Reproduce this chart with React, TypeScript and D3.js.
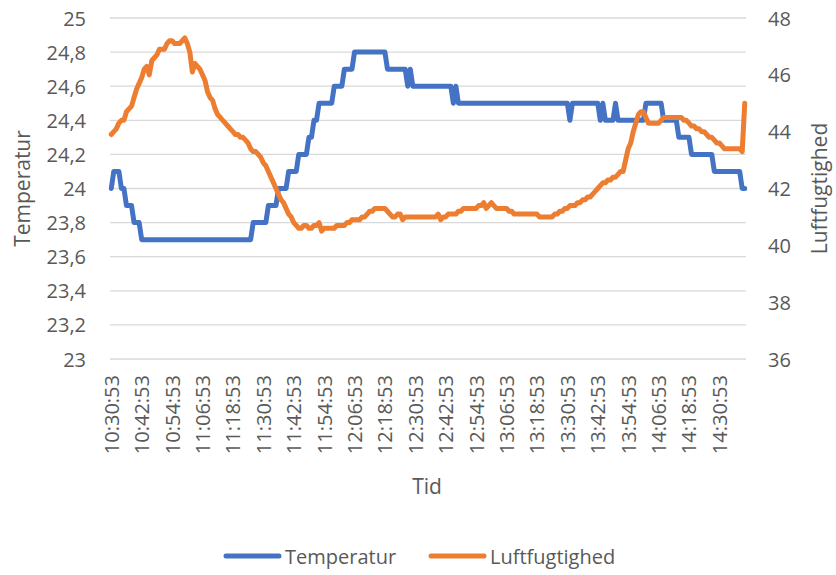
import * as d3 from 'd3'

// minute-by-minute readings, 10:30:53 -> 14:40:53
const temperatur: number[] = [
  24.0, 24.1, 24.1, 24.1, 24.0, 24.0, 23.9, 23.9, 23.9, 23.8,
  23.8, 23.8, 23.7, 23.7, 23.7, 23.7, 23.7, 23.7, 23.7, 23.7,
  23.7, 23.7, 23.7, 23.7, 23.7, 23.7, 23.7, 23.7, 23.7, 23.7,
  23.7, 23.7, 23.7, 23.7, 23.7, 23.7, 23.7, 23.7, 23.7, 23.7,
  23.7, 23.7, 23.7, 23.7, 23.7, 23.7, 23.7, 23.7, 23.7, 23.7,
  23.7, 23.7, 23.7, 23.7, 23.7, 23.7, 23.8, 23.8, 23.8, 23.8,
  23.8, 23.8, 23.9, 23.9, 23.9, 23.9, 24.0, 24.0, 24.0, 24.0,
  24.1, 24.1, 24.1, 24.1, 24.2, 24.2, 24.2, 24.2, 24.3, 24.3,
  24.4, 24.4, 24.5, 24.5, 24.5, 24.5, 24.5, 24.5, 24.6, 24.6,
  24.6, 24.6, 24.7, 24.7, 24.7, 24.7, 24.8, 24.8, 24.8, 24.8,
  24.8, 24.8, 24.8, 24.8, 24.8, 24.8, 24.8, 24.8, 24.8, 24.7,
  24.7, 24.7, 24.7, 24.7, 24.7, 24.7, 24.7, 24.6, 24.7, 24.6,
  24.6, 24.6, 24.6, 24.6, 24.6, 24.6, 24.6, 24.6, 24.6, 24.6,
  24.6, 24.6, 24.6, 24.6, 24.6, 24.5, 24.6, 24.5, 24.5, 24.5,
  24.5, 24.5, 24.5, 24.5, 24.5, 24.5, 24.5, 24.5, 24.5, 24.5,
  24.5, 24.5, 24.5, 24.5, 24.5, 24.5, 24.5, 24.5, 24.5, 24.5,
  24.5, 24.5, 24.5, 24.5, 24.5, 24.5, 24.5, 24.5, 24.5, 24.5,
  24.5, 24.5, 24.5, 24.5, 24.5, 24.5, 24.5, 24.5, 24.5, 24.5,
  24.5, 24.4, 24.5, 24.5, 24.5, 24.5, 24.5, 24.5, 24.5, 24.5,
  24.5, 24.5, 24.5, 24.4, 24.5, 24.4, 24.4, 24.4, 24.4, 24.5,
  24.4, 24.4, 24.4, 24.4, 24.4, 24.4, 24.4, 24.4, 24.4, 24.4,
  24.4, 24.5, 24.5, 24.5, 24.5, 24.5, 24.5, 24.5, 24.4, 24.4,
  24.4, 24.4, 24.4, 24.4, 24.3, 24.3, 24.3, 24.3, 24.3, 24.2,
  24.2, 24.2, 24.2, 24.2, 24.2, 24.2, 24.2, 24.2, 24.1, 24.1,
  24.1, 24.1, 24.1, 24.1, 24.1, 24.1, 24.1, 24.1, 24.1, 24.0,
  24.0,
]

const luftfugtighed: number[] = [
  43.9, 44.0, 44.1, 44.3, 44.4, 44.4, 44.7, 44.8, 44.9, 45.2,
  45.5, 45.7, 45.9, 46.2, 46.3, 46.0, 46.5, 46.6, 46.7, 46.9,
  46.9, 46.9, 47.1, 47.2, 47.2, 47.1, 47.1, 47.1, 47.2, 47.3,
  47.1, 46.8, 46.1, 46.4, 46.3, 46.2, 46.0, 45.8, 45.4, 45.2,
  45.1, 44.8, 44.6, 44.5, 44.4, 44.3, 44.2, 44.1, 44.0, 43.9,
  43.9, 43.8, 43.8, 43.7, 43.6, 43.4, 43.3, 43.3, 43.2, 43.1,
  42.9, 42.8, 42.6, 42.4, 42.2, 42.0, 41.8, 41.6, 41.5, 41.3,
  41.1, 41.0, 40.8, 40.7, 40.6, 40.6, 40.7, 40.7, 40.6, 40.6,
  40.7, 40.7, 40.8, 40.5, 40.6, 40.6, 40.6, 40.6, 40.6, 40.7,
  40.7, 40.7, 40.7, 40.8, 40.8, 40.9, 40.9, 40.9, 40.9, 41.0,
  41.0, 41.1, 41.2, 41.2, 41.3, 41.3, 41.3, 41.3, 41.3, 41.2,
  41.1, 41.0, 41.0, 41.1, 41.1, 40.9, 41.0, 41.0, 41.0, 41.0,
  41.0, 41.0, 41.0, 41.0, 41.0, 41.0, 41.0, 41.0, 41.0, 41.1,
  40.9, 41.0, 41.0, 41.1, 41.1, 41.1, 41.1, 41.2, 41.2, 41.3,
  41.3, 41.3, 41.3, 41.3, 41.3, 41.4, 41.4, 41.5, 41.3, 41.4,
  41.5, 41.4, 41.3, 41.3, 41.3, 41.3, 41.3, 41.2, 41.2, 41.1,
  41.1, 41.1, 41.1, 41.1, 41.1, 41.1, 41.1, 41.1, 41.1, 41.0,
  41.0, 41.0, 41.0, 41.0, 41.0, 41.1, 41.1, 41.2, 41.2, 41.3,
  41.3, 41.4, 41.4, 41.4, 41.5, 41.5, 41.6, 41.6, 41.7, 41.7,
  41.8, 41.9, 42.0, 42.1, 42.2, 42.2, 42.3, 42.3, 42.4, 42.4,
  42.5, 42.6, 42.6, 43.0, 43.4, 43.6, 44.0, 44.3, 44.6, 44.7,
  44.7, 44.5, 44.3, 44.3, 44.3, 44.3, 44.3, 44.4, 44.5, 44.5,
  44.5, 44.5, 44.5, 44.5, 44.5, 44.5, 44.4, 44.4, 44.3, 44.2,
  44.2, 44.1, 44.1, 44.0, 44.0, 43.9, 43.8, 43.8, 43.7, 43.6,
  43.6, 43.5, 43.4, 43.4, 43.4, 43.4, 43.4, 43.4, 43.4, 43.3,
  45.0,
]

const timeLabels = [
  '10:30:53', '10:42:53', '10:54:53', '11:06:53', '11:18:53', '11:30:53', '11:42:53',
  '11:54:53', '12:06:53', '12:18:53', '12:30:53', '12:42:53', '12:54:53', '13:06:53',
  '13:18:53', '13:30:53', '13:42:53', '13:54:53', '14:06:53', '14:18:53', '14:30:53',
]
const LABEL_EVERY = 12 // one label per 12 readings

const leftTicks  = [23, 23.2, 23.4, 23.6, 23.8, 24, 24.2, 24.4, 24.6, 24.8, 25]
const rightTicks = [36, 38, 40, 42, 44, 46, 48]

const BLUE   = '#4472C4'
const ORANGE = '#ED7D31'
const GRID   = '#D9D9D9'
const TEXT   = '#595959'
const FONT   = "'Open Sans', sans-serif"

export default function App() {
  const W = 836, H = 575
  const margin = { top: 18, right: 90, bottom: 216, left: 110 }
  const iL = margin.left, iR = W - margin.right
  const iT = margin.top,  iB = H - margin.bottom

  const n = temperatur.length
  const x = d3.scaleBand<number>().domain(d3.range(n)).range([iL, iR])
  const cx = (i: number) => x(i)! + x.bandwidth() / 2
  const yL = d3.scaleLinear().domain([23, 25]).range([iB, iT])
  const yR = d3.scaleLinear().domain([36, 48]).range([iB, iT])

  const lineT = d3.line<number>().x((_, i) => cx(i)).y(d => yL(d))
  const lineH = d3.line<number>().x((_, i) => cx(i)).y(d => yR(d))

  const fmt = (v: number) => String(+v.toFixed(1)).replace('.', ',')
  const fs = 20
  const sw = 5

  return (
    <svg width={W} height={H} style={{ position: 'absolute', left: 0, top: 0, background: '#fff' }}
      fontFamily={FONT}>
      {/* grid */}
      {leftTicks.map(t => (
        <line key={t} x1={iL} x2={iR} y1={yL(t)} y2={yL(t)} stroke={GRID} strokeWidth={1.3} />
      ))}

      {/* left ticks */}
      {leftTicks.map(t => (
        <text key={t} x={86} y={yL(t)} textAnchor="end" dominantBaseline="central"
          fontSize={fs} fill={TEXT}>{fmt(t)}</text>
      ))}
      {/* right ticks */}
      {rightTicks.map(t => (
        <text key={t} x={768} y={yR(t)} textAnchor="start" dominantBaseline="central"
          fontSize={fs} fill={TEXT}>{t}</text>
      ))}

      {/* x labels */}
      {timeLabels.map((lab, k) => {
        const px = cx(k * LABEL_EVERY)
        return (
          <text key={lab} transform={`translate(${px},375) rotate(-90)`} textAnchor="end"
            dominantBaseline="central" fontSize={fs} fill={TEXT}>{lab}</text>
        )
      })}

      {/* series */}
      <path d={lineT(temperatur)!} fill="none" stroke={BLUE} strokeWidth={sw}
        strokeLinejoin="round" strokeLinecap="round" />
      <path d={lineH(luftfugtighed)!} fill="none" stroke={ORANGE} strokeWidth={sw}
        strokeLinejoin="round" strokeLinecap="round" />

      {/* axis titles */}
      <text transform={`translate(22,${(iT + iB) / 2}) rotate(-90)`} textAnchor="middle"
        dominantBaseline="central" fontSize={fs + 1} fill={TEXT}>Temperatur</text>
      <text transform={`translate(819,${(iT + iB) / 2}) rotate(-90)`} textAnchor="middle"
        dominantBaseline="central" fontSize={fs + 1} fill={TEXT}>Luftfugtighed</text>
      <text x={427} y={486} textAnchor="middle" dominantBaseline="central"
        fontSize={fs + 1} fill={TEXT}>Tid</text>

      {/* legend */}
      <line x1={226} x2={279} y1={556} y2={556} stroke={BLUE} strokeWidth={sw} strokeLinecap="round" />
      <text x={285} y={556} dominantBaseline="central" fontSize={fs} fill={TEXT}>Temperatur</text>
      <line x1={431} x2={484} y1={556} y2={556} stroke={ORANGE} strokeWidth={sw} strokeLinecap="round" />
      <text x={490} y={556} dominantBaseline="central" fontSize={fs} fill={TEXT}>Luftfugtighed</text>
    </svg>
  )
}
